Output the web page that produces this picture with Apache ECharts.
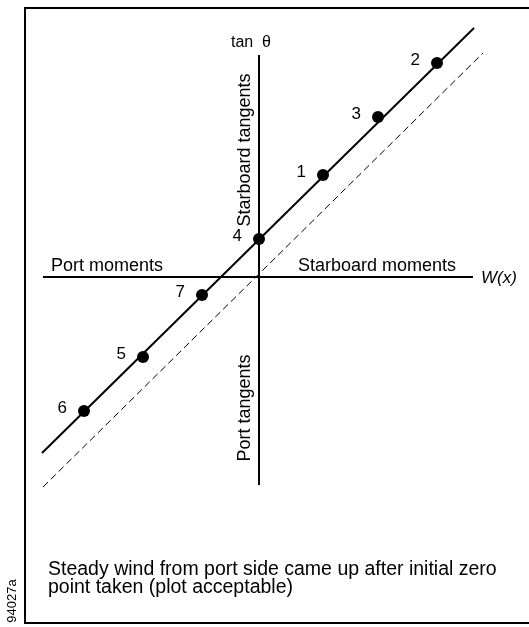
<!DOCTYPE html>
<html>
<head>
<meta charset="utf-8">
<script src="https://cdn.jsdelivr.net/npm/echarts@6/dist/echarts.min.js"></script>
<style>
html,body{margin:0;padding:0;background:#fff;}
#chart{width:529px;height:627px;}
</style>
</head>
<body>
<div id="chart"></div>
<script>
// Data (units: arbitrary, origin at axes crossing)
const pointLabels = ['1', '2', '3', '4', '5', '6', '7'];
const pointX = [1.28, 3.56, 2.38, 0.00, -2.32, -3.50, -1.14];
const pointY = [2.04, 4.28, 3.20, 0.76, -1.60, -2.68, -0.36];

const fitLineX = [-4.34, 4.30];
const fitLineY = [-3.52, 4.98];

const zeroLineX = [-4.32, 4.48];
const zeroLineY = [-4.20, 4.48];

const wAxisX = [-4.32, 4.28];
const wAxisY = [0, 0];
const tanAxisX = [0, 0];
const tanAxisY = [-4.16, 4.44];

const xRange = [-5.18, 5.40];
const yRange = [-7.00, 5.54];

const FONT = '"Liberation Sans", Arial, Helvetica, sans-serif';

function pairs(xs, ys) { return xs.map((x, i) => [x, ys[i]]); }

const chart = echarts.init(document.getElementById('chart'), null, { renderer: 'canvas' });

const txt = (text, x, y, size, extra) => Object.assign({
  type: 'text', x: x, y: y, z: 10,
  style: { text: text, fill: '#000', font: size + 'px ' + FONT, align: 'center', verticalAlign: 'middle' }
}, extra || {});

const option = {
  animation: false,
  backgroundColor: '#fff',
  grid: { left: 0, right: 0, top: 0, bottom: 0 },
  xAxis: { type: 'value', min: xRange[0], max: xRange[1], show: false },
  yAxis: { type: 'value', min: yRange[0], max: yRange[1], show: false },
  series: [
    { type: 'line', data: pairs(wAxisX, wAxisY), symbol: 'none', lineStyle: { color: '#000', width: 2 } },
    { type: 'line', data: pairs(tanAxisX, tanAxisY), symbol: 'none', lineStyle: { color: '#000', width: 2 } },
    { type: 'line', data: pairs(zeroLineX, zeroLineY), symbol: 'none', lineStyle: { color: '#000', width: 1, type: [7, 4] } },
    { type: 'line', data: pairs(fitLineX, fitLineY), symbol: 'none', lineStyle: { color: '#000', width: 2 } },
    {
      type: 'scatter',
      symbol: 'circle', symbolSize: 12,
      itemStyle: { color: '#000', opacity: 1 },
      data: pointX.map((x, i) => ({ name: pointLabels[i], value: [x, pointY[i]] })),
      label: {
        show: true, formatter: '{b}', position: 'left', distance: 9, offset: [-2, -3],
        color: '#000', opacity: 1, textBorderWidth: 0, fontSize: 17, fontFamily: FONT
      },
      z: 5
    }
  ],
  graphic: [
    { type: 'rect', shape: { x: 25, y: 8, width: 520, height: 615 }, style: { fill: 'none', stroke: '#000', lineWidth: 2 } },
    txt('tan  θ', 251, 43, 16),
    txt('Port moments', 107, 266, 18),
    txt('Starboard moments', 377, 266, 18),
    txt('W(x)', 499, 278, 17, { style: { text: 'W(x)', fill: '#000', font: 'italic 17px ' + FONT, align: 'center', verticalAlign: 'middle' } }),
    txt('Starboard tangents', 245, 150, 18, { rotation: Math.PI / 2 }),
    txt('Port tangents', 245, 408, 18, { rotation: Math.PI / 2 }),
    { type: 'text', x: 48, y: 561, z: 10,
      style: { text: 'Steady wind from port side came up after initial zero\npoint taken (plot acceptable)',
        fill: '#000', font: '19.5px ' + FONT, lineHeight: 18, align: 'left', verticalAlign: 'top' } },
    txt('94027a', 12, 601, 13, { rotation: Math.PI / 2 })
  ]
};

chart.setOption(option);
</script>
</body>
</html>
